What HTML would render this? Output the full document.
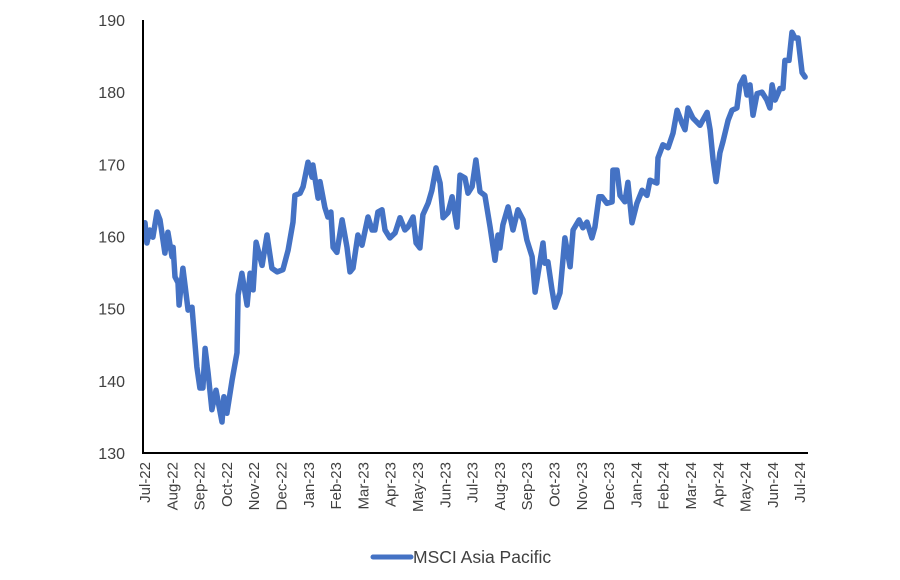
<!DOCTYPE html>
<html><head><meta charset="utf-8"><style>
html,body{margin:0;padding:0;background:#fff;}
svg text{font-family:"Liberation Sans",sans-serif;fill:#404040;}
</style></head><body>
<svg id="chart" width="900" height="575" viewBox="0 0 900 575" xmlns="http://www.w3.org/2000/svg"></svg>
<script>
const monthLabels = ["Jul-22","Aug-22","Sep-22","Oct-22","Nov-22","Dec-22","Jan-23","Feb-23","Mar-23","Apr-23","May-23","Jun-23","Jul-23","Aug-23","Sep-23","Oct-23","Nov-23","Dec-23","Jan-24","Feb-24","Mar-24","Apr-24","May-24","Jun-24","Jul-24"];
const yTicks = [130,140,150,160,170,180,190];
const monthOffsets = [0,.07,.18,.29,.44,.55,.73,.84,.99,1.03,1.10,1.21,1.25,1.39,1.58,1.72,1.90,2.01,2.12,2.20,2.31,2.45,2.60,2.82,2.89,3.00,3.19,3.37,3.41,3.55,3.74,3.85,3.96,4.07,4.29,4.47,4.65,4.84,5.05,5.24,5.42,5.49,5.68,5.79,5.97,6.12,6.15,6.34,6.41,6.59,6.70,6.81,6.89,7.03,7.22,7.40,7.51,7.62,7.80,7.95,8.17,8.32,8.42,8.53,8.68,8.79,8.97,9.16,9.34,9.52,9.63,9.82,9.93,10.07,10.18,10.37,10.51,10.66,10.81,10.92,11.10,11.25,11.43,11.54,11.72,11.83,11.98,12.12,12.27,12.45,12.64,12.82,12.93,13.00,13.11,13.30,13.48,13.66,13.85,13.99,14.18,14.29,14.40,14.58,14.65,14.76,14.91,15.02,15.20,15.38,15.57,15.68,15.90,16.04,16.19,16.37,16.48,16.63,16.74,16.92,17.11,17.14,17.29,17.40,17.58,17.69,17.84,18.02,18.21,18.39,18.50,18.75,18.79,18.97,19.16,19.34,19.49,19.67,19.78,19.89,20.07,20.33,20.59,20.70,20.81,20.92,21.06,21.17,21.36,21.50,21.68,21.79,21.94,22.05,22.16,22.27,22.42,22.60,22.78,22.89,22.97,23.08,23.26,23.37,23.44,23.59,23.70,23.81,23.92,24.07,24.18];
const seriesValues = [161.9,159.1,160.9,159.9,163.4,162.3,157.7,160.6,157.2,158.5,154.4,153.6,150.5,155.6,149.8,150.2,141.9,139.0,139.0,144.5,141.1,136.0,138.7,134.3,137.8,135.5,140.1,143.9,151.9,154.9,150.5,154.9,152.6,159.2,156.0,160.2,155.6,155.1,155.4,158.1,162.0,165.7,166.0,166.9,170.3,168.2,169.9,165.3,167.6,164.0,162.7,163.4,158.5,157.8,162.3,158.5,155.1,155.6,160.2,158.8,162.7,160.9,160.9,163.4,163.7,160.9,159.8,160.5,162.6,160.9,161.3,162.7,159.1,158.4,163.0,164.6,166.4,169.5,167.4,162.6,163.3,165.5,161.3,168.5,168.1,166.0,166.9,170.6,166.2,165.7,161.3,156.7,160.2,158.4,161.6,164.1,160.9,163.7,162.3,159.5,157.2,152.3,154.9,159.1,156.3,156.5,152.6,150.2,152.2,159.8,155.8,160.9,162.3,161.2,162.0,159.8,161.3,165.5,165.5,164.6,164.8,169.2,169.2,165.7,164.8,167.5,161.9,164.6,166.4,165.7,167.8,167.4,170.9,172.7,172.3,174.3,177.5,175.7,174.8,177.8,176.4,175.4,177.2,174.8,170.6,167.6,171.6,173.1,176.1,177.5,177.8,181.0,182.1,179.6,181.0,176.8,179.8,180.0,178.9,177.8,181.0,178.9,180.5,180.5,184.4,184.4,188.3,187.5,187.5,182.7,182.1];

const NS="http://www.w3.org/2000/svg";
const svg=document.getElementById('chart');
const X0=145, MW=27.3, Y0=453, YS=7.217;
function xScale(m){return X0+m*MW;}
function yScale(v){return Y0-(v-130)*YS;}
function mk(tag,attrs){const e=document.createElementNS(NS,tag);for(const k in attrs)e.setAttribute(k,attrs[k]);svg.appendChild(e);return e;}

yTicks.forEach(function(t){
  const e=mk('text',{x:125,y:yScale(t)+6,'text-anchor':'end','font-size':'16'});
  
  
  e.textContent=t;
});
monthLabels.forEach(function(l,i){
  const x=xScale(i);
  const e=mk('text',{x:0,y:0,'text-anchor':'end','font-size':'15',transform:'translate('+(x+5)+',462) rotate(-90)'});
  
  
  e.textContent=l;
});
let d='';
monthOffsets.forEach(function(m,i){d+=(i?'L':'M')+xScale(m).toFixed(1)+','+yScale(seriesValues[i]).toFixed(1);});
const p=mk('path',{d:d,fill:'none',stroke:'#4472C4','stroke-width':'5.5','stroke-linejoin':'round','stroke-linecap':'round'});


const ya=mk('line',{x1:143,y1:20,x2:143,y2:454,stroke:'#000','stroke-width':'2'});


const xa=mk('line',{x1:142,y1:453,x2:808,y2:453,stroke:'#000','stroke-width':'2'});


const ls=mk('line',{x1:373,y1:557,x2:411,y2:557,stroke:'#4472C4','stroke-width':'5','stroke-linecap':'round'});


const lt=mk('text',{x:413,y:563,'font-size':'17.5'});


lt.textContent='MSCI Asia Pacific';
</script>
</body></html>
